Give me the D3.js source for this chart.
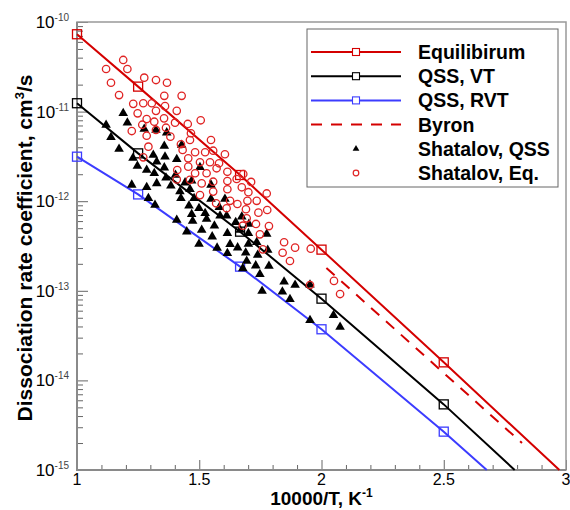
<!DOCTYPE html>
<html>
<head>
<meta charset="utf-8">
<script src="https://cdn.jsdelivr.net/npm/d3@7"></script>
<style>
  body { margin: 0; background: #fff; }
  svg { display: block; font-family: "Liberation Sans", Arial, sans-serif; }
</style>
</head>
<body>
<div id="chart"></div>
<script>
// model curves (10000/T vs k, cm3/s)
const eqX  = [1, 1.25, 1.667, 2, 2.5, 2.973];
const eqK  = [7.3e-11, 1.9e-11, 1.96e-12, 2.88e-13, 1.59e-14, 1e-15];
const vtX  = [1, 1.25, 1.667, 2, 2.5, 2.79];
const vtK  = [1.24e-11, 3.42e-12, 4.57e-13, 8.17e-14, 5.4e-15, 1e-15];
const rvtX = [1, 1.25, 1.667, 2, 2.5, 2.676];
const rvtK = [3.14e-12, 1.19e-12, 1.86e-13, 3.72e-14, 2.68e-15, 1e-15];
const markerX = [1, 1.25, 1.667, 2, 2.5];
const byronX = [2.02, 2.82];
const byronK = [1.8e-13, 2.0e-15];

// Shatalov, Eq. (open circles)
const shEqX = [1.189, 1.119, 1.206, 1.139, 1.275, 1.323, 1.368, 1.172, 1.357, 1.428,
  1.230, 1.271, 1.306, 1.360, 1.248, 1.323, 1.408, 1.285, 1.316, 1.356,
  1.506, 1.401, 1.453, 1.224, 1.267, 1.323, 1.364, 1.285, 1.382, 1.466,
  1.548, 1.425, 1.462, 1.292, 1.432, 1.483, 1.524, 1.557, 1.271, 1.455,
  1.503, 1.544, 1.581, 1.410, 1.455, 1.571, 1.483, 1.530, 1.408, 1.510,
  1.557, 1.462, 1.557, 1.503, 1.605, 1.615, 1.653, 1.680, 1.712, 1.615,
  1.674, 1.701, 1.776, 1.615, 1.626, 1.656, 1.697, 1.735, 1.569, 1.612,
  1.691, 1.742, 1.778, 1.694, 1.732, 1.785, 1.678, 1.748, 1.760, 1.847,
  1.892, 1.841, 1.871, 1.956, 1.953, 2.051, 2.076];
const shEqK = [3.77e-11, 2.99e-11, 2.99e-11, 2.10e-11, 2.39e-11, 2.25e-11, 2.10e-11, 1.53e-11, 1.50e-11, 1.50e-11,
  1.22e-11, 1.24e-11, 1.24e-11, 1.15e-11, 9.57e-12, 1.02e-11, 1.02e-11, 8.26e-12, 7.71e-12, 8.41e-12,
  8.0e-12, 7.52e-12, 7.28e-12, 6.07e-12, 7.14e-12, 6.24e-12, 6.61e-12, 5.38e-12, 5.25e-12, 5.73e-12,
  4.82e-12, 4.32e-12, 4.82e-12, 4.06e-12, 3.73e-12, 3.52e-12, 3.52e-12, 3.66e-12, 3.09e-12, 3.01e-12,
  2.72e-12, 2.72e-12, 2.65e-12, 2.23e-12, 2.43e-12, 2.33e-12, 2.05e-12, 2.05e-12, 1.75e-12, 1.58e-12,
  1.65e-12, 1.73e-12, 1.28e-12, 1.17e-12, 3.34e-12, 2.13e-12, 1.77e-12, 2.01e-12, 1.64e-12, 1.68e-12,
  1.43e-12, 1.26e-12, 1.22e-12, 1.36e-12, 1.01e-12, 9.31e-13, 1.01e-12, 1.01e-12, 9.48e-13, 8.34e-13,
  8.13e-13, 7.45e-13, 7.98e-13, 6.44e-13, 5.57e-13, 5.28e-13, 5.33e-13, 4.27e-13, 2.90e-13, 3.48e-13,
  3.03e-13, 2.66e-13, 2.15e-13, 2.95e-13, 1.16e-13, 1.29e-13, 9.2e-14];

// Shatalov, QSS (filled triangles)
const shQssX = [1.189, 1.206, 1.119, 1.139, 1.172, 1.275, 1.323, 1.367, 1.428, 1.357,
  1.229, 1.312, 1.360, 1.408, 1.247, 1.285, 1.326, 1.357, 1.316, 1.364,
  1.403, 1.503, 1.469, 1.224, 1.285, 1.326, 1.384, 1.442, 1.548, 1.462,
  1.421, 1.292, 1.319, 1.408, 1.449, 1.499, 1.425, 1.458, 1.499, 1.469,
  1.524, 1.473, 1.530, 1.562, 1.510, 1.553, 1.573, 1.548, 1.585, 1.479,
  1.605, 1.582, 1.612, 1.674, 1.649, 1.703, 1.615, 1.701, 1.776, 1.735,
  1.626, 1.657, 1.701, 1.780, 1.615, 1.690, 1.739, 1.694, 1.731, 1.785,
  1.678, 1.748, 1.847, 1.892, 1.953, 1.757, 1.840, 1.871, 1.953, 2.049,
  2.076, 1.667];
const shQssK = [9.57e-12, 7.52e-12, 7.08e-12, 5.16e-12, 3.83e-12, 6.40e-12, 6.24e-12, 5.82e-12, 4.24e-12, 4.13e-12,
  3.03e-12, 3.28e-12, 3.14e-12, 2.94e-12, 2.47e-12, 2.23e-12, 2.76e-12, 2.37e-12, 2.05e-12, 1.83e-12,
  1.96e-12, 2.39e-12, 1.69e-12, 1.52e-12, 1.43e-12, 1.58e-12, 1.49e-12, 1.61e-12, 1.52e-12, 1.36e-12,
  1.28e-12, 1.08e-12, 9.07e-13, 6.17e-13, 4.57e-13, 3.33e-13, 1.08e-12, 8.91e-13, 8.34e-13, 7.14e-13,
  7.33e-13, 6.01e-13, 6.32e-13, 5.33e-13, 4.77e-13, 4.02e-13, 3.01e-13, 1.06e-12, 6.89e-13, 1.08e-12,
  1.06e-12, 8.55e-13, 6.89e-13, 6.71e-13, 5.82e-13, 5.57e-13, 4.39e-13, 4.39e-13, 4.31e-13, 3.48e-13,
  3.30e-13, 3.03e-13, 3.33e-13, 2.85e-13, 2.62e-13, 2.66e-13, 2.51e-13, 2.15e-13, 1.91e-13, 1.89e-13,
  1.78e-13, 1.53e-13, 1.26e-13, 1.16e-13, 1.17e-13, 9.95e-14, 9.77e-14, 8.04e-14, 4.69e-14, 5.33e-14,
  3.94e-14, 4.77e-13];

const xMajorTicks = [1, 1.5, 2, 2.5, 3];
const xTickLabels = ["1", "1.5", "2", "2.5", "3"];
const yMajorTicks = [1e-15, 1e-14, 1e-13, 1e-12, 1e-11, 1e-10];
const yTickExps = ["-15", "-14", "-13", "-12", "-11", "-10"];

const legendNames = ["Equilibirum", "QSS, VT", "QSS, RVT", "Byron", "Shatalov, QSS", "Shatalov, Eq."];

const RED = "#d40000", BLUE = "#3c3cff", CIRC = "#e02424";

const width = 570, height = 510;
const margin = {top: 22, right: 4, bottom: 40, left: 77};
const iw = width - margin.left - margin.right;
const ih = height - margin.top - margin.bottom;

const svg = d3.select("#chart").append("svg")
    .attr("width", width)
    .attr("height", height);
const g = svg.append("g")
    .attr("transform", `translate(${margin.left},${margin.top})`);

const x = d3.scaleLinear().domain([1, 3]).range([0, iw]);
const y = d3.scaleLog().domain([1e-15, 1e-10]).range([ih, 0]);

// minor ticks
const xMinor = d3.range(1, 3.0001, 0.1).filter(v => Math.abs(v * 2 - Math.round(v * 2)) > 1e-6);
const yMinor = [];
for (let e = -15; e < -10; e++) for (let m = 2; m <= 9; m++) yMinor.push(m * Math.pow(10, e));

function styleAxis(sel) {
  sel.select(".domain").remove();
  sel.selectAll(".tick line").attr("stroke", "#666").attr("stroke-width", 1);
}

g.append("g").attr("transform", `translate(0,${ih})`)
    .call(d3.axisBottom(x).tickValues(xMinor).tickSize(-5).tickFormat(""))
    .call(styleAxis);
g.append("g").attr("transform", `translate(0,${ih})`)
    .call(d3.axisBottom(x).tickValues(xMajorTicks).tickSize(-10).tickFormat(""))
    .call(styleAxis);
g.append("g")
    .call(d3.axisLeft(y).tickValues(yMinor).tickSize(-6).tickFormat(""))
    .call(styleAxis);
g.append("g")
    .call(d3.axisLeft(y).tickValues(yMajorTicks).tickSize(-11).tickFormat(""))
    .call(styleAxis);

// frame
g.append("rect")
    .attr("width", iw).attr("height", ih)
    .attr("fill", "none").attr("stroke", "#999").attr("stroke-width", 1.5);
g.append("path")
    .attr("d", `M0,0V${ih}H${iw}`)
    .attr("fill", "none").attr("stroke", "#8a8a8a").attr("stroke-width", 2);

// tick labels
g.append("g").selectAll("text")
  .data(xMajorTicks)
  .join("text")
    .attr("x", d => x(d))
    .attr("y", ih + 15)
    .attr("text-anchor", "middle")
    .attr("font-size", 16)
    .text((d, i) => xTickLabels[i]);

const yl = g.append("g").selectAll("text")
  .data(yMajorTicks)
  .join("text")
    .attr("x", -8)
    .attr("y", d => y(d) + 6)
    .attr("text-anchor", "end")
    .attr("font-size", 17);
yl.append("tspan").text("10");
yl.append("tspan")
    .attr("dy", -7)
    .attr("font-size", 10)
    .attr("fill", "#444")
    .text((d, i) => yTickExps[i]);

// axis titles
const xt = svg.append("text")
    .attr("x", margin.left + iw / 2)
    .attr("y", 505)
    .attr("text-anchor", "middle")
    .attr("font-size", 19)
    .attr("font-weight", "bold")
    .text("10000/T, K");
xt.append("tspan").attr("dy", -8).attr("font-size", 12).text("-1");

const yt = svg.append("text")
    .attr("transform", `translate(32,${margin.top + ih / 2 + 2}) rotate(-90)`)
    .attr("text-anchor", "middle")
    .attr("font-size", 21)
    .attr("font-weight", "bold")
    .text("Dissociation rate coefficient, cm");
yt.append("tspan").attr("dy", -8).attr("font-size", 13).text("3");
yt.append("tspan").attr("dy", 8).text("/s");

// curves
const line = d3.line().x(d => x(d[0])).y(d => y(d[1]));
const curves = [
  {xs: eqX, ks: eqK, color: RED},
  {xs: vtX, ks: vtK, color: "#000"},
  {xs: rvtX, ks: rvtK, color: BLUE}
];
curves.forEach(c => {
  const pts = c.xs.map((v, i) => [v, c.ks[i]]);
  g.append("path").datum(pts)
      .attr("d", line)
      .attr("fill", "none")
      .attr("stroke", c.color)
      .attr("stroke-width", 2);
  g.append("g").selectAll("rect")
    .data(pts.filter(p => markerX.includes(p[0])))
    .join("rect")
      .attr("x", p => x(p[0]) - 4.5)
      .attr("y", p => y(p[1]) - 4.5)
      .attr("width", 9).attr("height", 9)
      .attr("fill", "none")
      .attr("stroke", c.color)
      .attr("stroke-width", 1.3);
});

g.append("path").datum(byronX.map((v, i) => [v, byronK[i]]))
    .attr("d", line)
    .attr("fill", "none")
    .attr("stroke", RED)
    .attr("stroke-width", 2)
    .attr("stroke-dasharray", "11,9");

// scatter
const tri = d3.symbol().type(d3.symbolTriangle).size(40);
g.append("g").selectAll("path")
  .data(shQssX.map((v, i) => [v, shQssK[i]]))
  .join("path")
    .attr("d", tri)
    .attr("transform", d => `translate(${x(d[0])},${y(d[1])})`)
    .attr("fill", "#000");

g.append("g").selectAll("circle")
  .data(shEqX.map((v, i) => [v, shEqK[i]]))
  .join("circle")
    .attr("cx", d => x(d[0]))
    .attr("cy", d => y(d[1]))
    .attr("r", 3.7)
    .attr("fill", "none")
    .attr("stroke", CIRC)
    .attr("stroke-width", 1.3);

// legend
const lg = svg.append("g").attr("transform", "translate(307,29)");
lg.append("rect")
    .attr("width", 251).attr("height", 158)
    .attr("fill", "#fff").attr("stroke", "#666").attr("stroke-width", 1);
const rowY = i => 23 + i * 24.2;
legendNames.forEach((name, i) => {
  const ry = rowY(i);
  if (i < 4) {
    const col = [RED, "#000", BLUE, RED][i];
    lg.append("line")
        .attr("x1", 4).attr("x2", 94).attr("y1", ry).attr("y2", ry)
        .attr("stroke", col).attr("stroke-width", 2)
        .attr("stroke-dasharray", i === 3 ? "11,9" : null);
    if (i < 3) {
      lg.append("rect")
          .attr("x", 49 - 3.5).attr("y", ry - 3.5)
          .attr("width", 7).attr("height", 7)
          .attr("fill", "#fff").attr("stroke", col).attr("stroke-width", 1.1);
    }
  } else if (i === 4) {
    lg.append("path")
        .attr("d", d3.symbol().type(d3.symbolTriangle).size(20))
        .attr("transform", `translate(49,${ry})`)
        .attr("fill", "#000");
  } else {
    lg.append("circle")
        .attr("cx", 49).attr("cy", ry).attr("r", 2.8)
        .attr("fill", "none").attr("stroke", CIRC).attr("stroke-width", 1.2);
  }
  lg.append("text")
      .attr("x", 111).attr("y", ry + 7)
      .attr("font-size", 19.5)
      .attr("font-weight", "bold")
      .text(name);
});
</script>
</body>
</html>
